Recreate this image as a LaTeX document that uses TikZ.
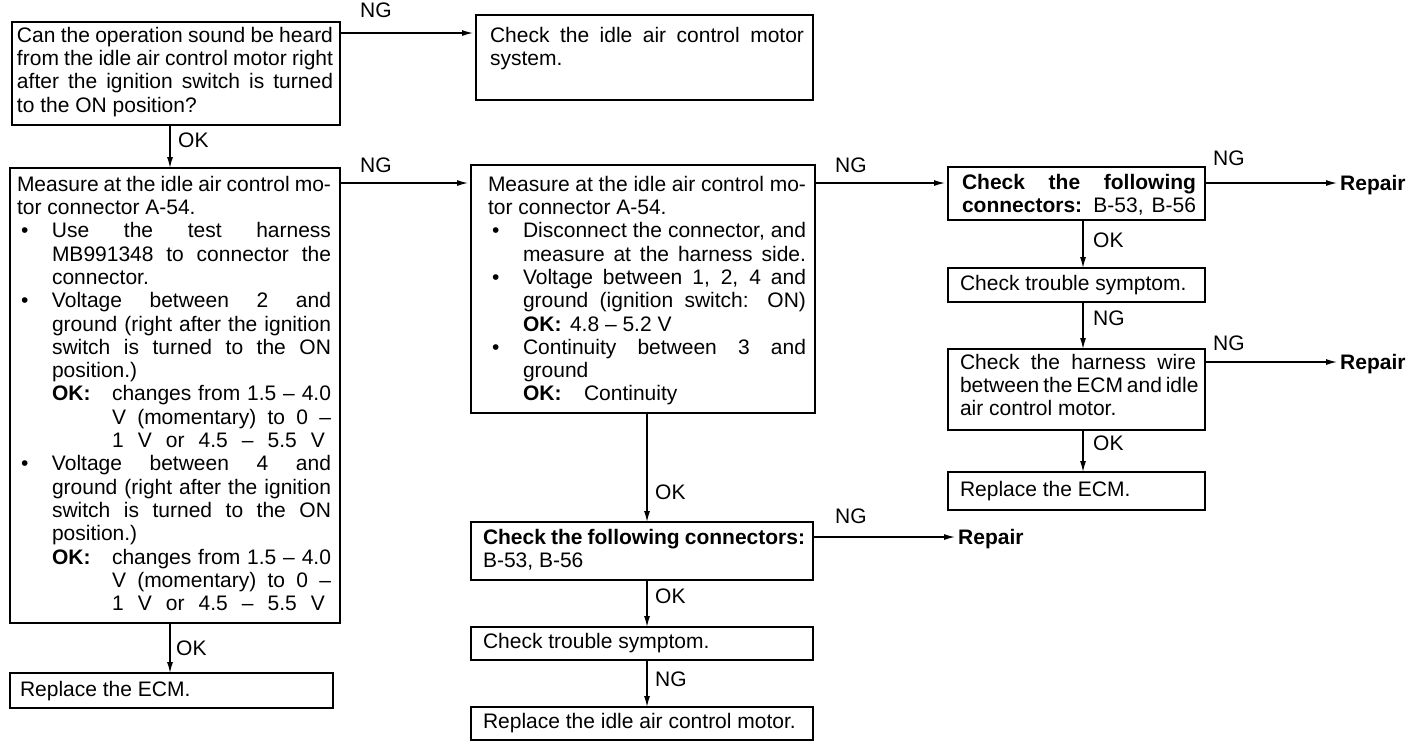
\documentclass[tikz,border=0pt]{standalone}
\usepackage{fontspec}
\setmainfont{Liberation Sans}
\usetikzlibrary{arrows.meta}
\newcommand{\bodyfont}{\fontsize{21pt}{23.3pt}\selectfont}
\newlength\bw \newlength\tw \newlength\lp
\newcommand{\bxc}[6]{\setlength\bw{#1pt}\setlength\lp{#3pt}\setlength\tw{\dimexpr#1pt-#3pt-#4pt\relax}\vbox to #2pt{\bodyfont\vskip#5pt\relax#6\vfil}}
\newcommand{\lnj}[2]{\hbox to\bw{\hskip\lp\hbox to\tw{\hskip#1\relax#2}\hss}}
\newcommand{\lnr}[2]{\hbox to\bw{\hskip\lp\hbox to\tw{\hskip#1\relax#2\hfil}\hss}}
\newcommand{\bult}{\hbox to 35pt{\hskip4pt\textbullet\hss}}
\newcommand{\okt}[1]{\hbox to #1{\hskip35pt\textbf{OK:}\hss}}
\hbadness=10000 \hfuzz=50pt \vbadness=10000 \vfuzz=50pt
\begin{document}
\begin{tikzpicture}[x=1pt,y=-1pt,
  bx/.style={draw, line width=1.7pt, anchor=north west, inner sep=0pt, outer sep=0pt},
  arr/.style={line width=1.3pt, -{Latex[length=11pt,width=6pt]}},
  harr/.style={arr, shorten >=3pt},
  lbl/.style={anchor=west, inner sep=0pt, font=\bodyfont},
  rep/.style={anchor=base west, inner sep=0pt, font=\bodyfont\bfseries}]
\useasboundingbox (0,0) rectangle (1424,748);
% boxes
\node[bx] (A) at (12,22) {\bxc{328}{103}{5}{7}{5}{%
  \lnj{0pt}{Can the operation sound be heard}
  \lnj{0pt}{from the idle air control motor right}
  \lnj{0pt}{after the ignition switch is turned}
  \lnr{0pt}{to the ON position?}}};
\node[bx] (B) at (476,15) {\bxc{337}{85}{14}{9}{12}{%
  \lnj{0pt}{Check the idle air control motor}
  \lnr{0pt}{system.}}};
\node[bx] (C) at (10,168) {\bxc{330}{455}{7}{9}{8}{%
  \lnj{0pt}{Measure at the idle air control mo-}
  \lnr{0pt}{tor connector A-54.}
  \lnj{0pt}{\bult Use the test harness}
  \lnj{35pt}{MB991348 to connector the}
  \lnr{35pt}{connector.}
  \lnj{0pt}{\bult Voltage between 2 and}
  \lnj{35pt}{ground (right after the ignition}
  \lnj{35pt}{switch is turned to the ON}
  \lnr{35pt}{position.)}
  \lnj{0pt}{\okt{95pt}changes from 1.5 – 4.0}
  \lnj{95pt}{V (momentary) to 0 –}
  \lnj{95pt}{1 V or 4.5 – 5.5 V\hskip6pt}
  \lnj{0pt}{\bult Voltage between 4 and}
  \lnj{35pt}{ground (right after the ignition}
  \lnj{35pt}{switch is turned to the ON}
  \lnr{35pt}{position.)}
  \lnj{0pt}{\okt{95pt}changes from 1.5 – 4.0}
  \lnj{95pt}{V (momentary) to 0 –}
  \lnj{95pt}{1 V or 4.5 – 5.5 V\hskip6pt}}};
\node[bx] (D) at (471,165) {\bxc{344}{248}{17}{9}{11}{%
  \lnj{0pt}{Measure at the idle air control mo-}
  \lnr{0pt}{tor connector A-54.}
  \lnj{0pt}{\bult Disconnect the connector, and}
  \lnj{35pt}{measure at the harness side.}
  \lnj{0pt}{\bult Voltage between 1, 2, 4 and}
  \lnj{35pt}{ground (ignition switch: ON)}
  \lnr{0pt}{\okt{82pt}4.8 – 5.2 V}
  \lnj{0pt}{\bult Continuity between 3 and}
  \lnr{35pt}{ground}
  \lnr{0pt}{\okt{96pt}Continuity}}};
\node[bx] (E) at (10,673) {\bxc{323}{35}{10}{5}{8}{\lnr{0pt}{Replace the ECM.}}};
\node[bx] (F) at (471,522) {\bxc{342}{58}{12}{8}{7}{%
  \lnj{0pt}{\textbf{Check the following connectors:}}
  \lnr{0pt}{B-53, B-56}}};
\node[bx] (G) at (471,627) {\bxc{342}{33}{12}{5}{6}{\lnr{0pt}{Check trouble symptom.}}};
\node[bx] (H) at (471,707) {\bxc{342}{33}{12}{5}{6}{\lnr{0pt}{Replace the idle air control motor.}}};
\node[bx] (I) at (948,167) {\bxc{257}{53}{14}{9}{7}{%
  \lnj{0pt}{\textbf{Check the following}}
  \lnj{0pt}{\textbf{connectors:} B-53, B-56}}};
\node[bx] (J) at (948,268) {\bxc{257}{34}{12}{5}{7}{\lnr{0pt}{Check trouble symptom.}}};
\node[bx] (K) at (948,349) {\bxc{257}{81}{12}{9}{5}{%
  \lnj{0pt}{Check the harness wire}
  \lnj{0pt}{between the ECM and idle}
  \lnr{0pt}{air control motor.}}};
\node[bx] (L) at (948,472) {\bxc{257}{38}{12}{5}{9}{\lnr{0pt}{Replace the ECM.}}};
% repair nodes
\node[rep] (R1) at (1340,190) {Repair};
\node[rep] (R2) at (1340,369) {Repair};
\node[rep] (R3) at (958,544) {Repair};
% connector start points
\coordinate (a1) at ([yshift=-11pt]A.north east);
\coordinate (c1) at ([yshift=-15pt]C.north east);
\coordinate (d1) at ([yshift=-18pt]D.north east);
\coordinate (f1) at ([yshift=-15pt]F.north east);
\coordinate (i1) at ([yshift=-16pt]I.north east);
\coordinate (k1) at ([yshift=-13pt]K.north east);
\coordinate (a2) at ([xshift=158pt]A.south west);
\coordinate (c2) at ([xshift=160pt]C.south west);
\coordinate (d2) at ([xshift=176pt]D.south west);
\coordinate (f2) at ([xshift=176pt]F.south west);
\coordinate (g2) at ([xshift=176pt]G.south west);
\coordinate (i2) at ([xshift=135pt]I.south west);
\coordinate (j2) at ([xshift=135pt]J.south west);
\coordinate (k2) at ([xshift=135pt]K.south west);
% connectors
\draw[harr] (a1) -- (a1 -| B.west);
\draw[harr] (c1) -- (c1 -| D.west);
\draw[harr] (d1) -- (d1 -| I.west);
\draw[harr] (f1) -- (f1 -| R3.west);
\draw[harr] (i1) -- (i1 -| R1.west);
\draw[harr] (k1) -- (k1 -| R2.west);
\draw[arr] (a2) -- (a2 |- C.north);
\draw[arr] (c2) -- (c2 |- E.north);
\draw[arr] (d2) -- (d2 |- F.north);
\draw[arr] (f2) -- (f2 |- G.north);
\draw[arr] (g2) -- (g2 |- H.north);
\draw[arr] (i2) -- (i2 |- J.north);
\draw[arr] (j2) -- (j2 |- K.north);
\draw[arr] (k2) -- (k2 |- L.north);
% labels
\node[lbl] (n1) at (360,10) {NG};
\node[lbl] (o1) at (178,140) {OK};
\node[lbl] (n2) at (360,165) {NG};
\node[lbl] (o2) at (176,648) {OK};
\node[lbl] (n3) at (835,165) {NG};
\node[lbl] (o3) at (655,492) {OK};
\node[lbl] (n4) at (835,516) {NG};
\node[lbl] (o4) at (655,596) {OK};
\node[lbl] (n5) at (655,679) {NG};
\node[lbl] (n6) at (1213,158) {NG};
\node[lbl] (o5) at (1093,240) {OK};
\node[lbl] (n7) at (1093,318) {NG};
\node[lbl] (n8) at (1213,343) {NG};
\node[lbl] (o6) at (1093,443) {OK};
\end{tikzpicture}
\end{document}
